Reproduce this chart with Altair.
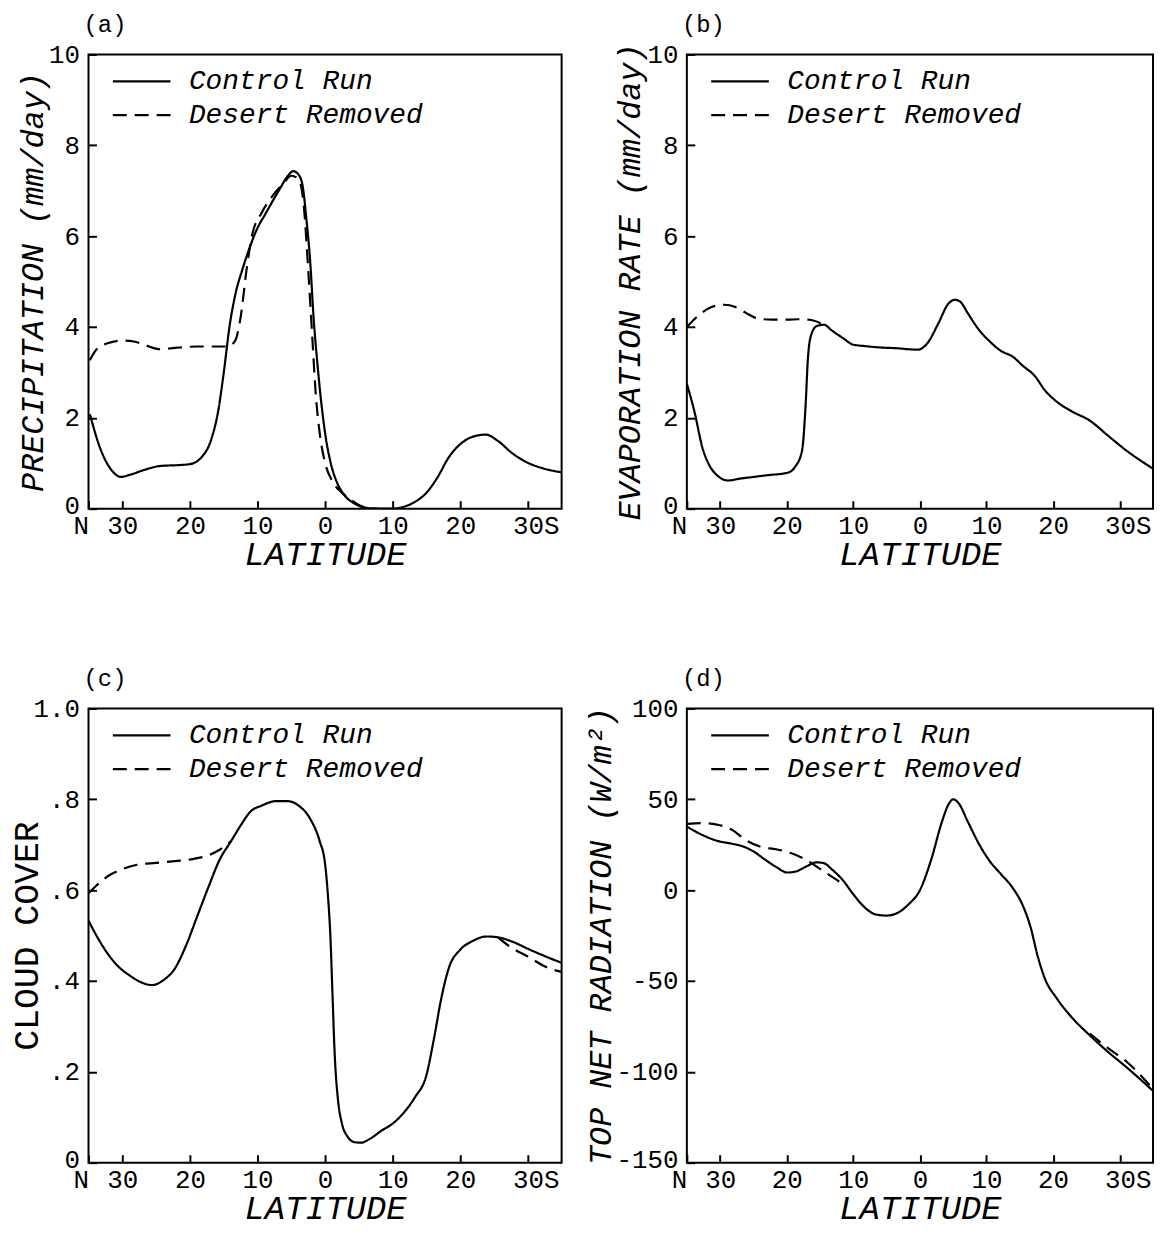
import altair as alt
import pandas as pd

FONT = "Liberation Mono"
SERIES = ["Control Run", "Desert Removed"]
DASHES = [[1, 0], [14, 8]]
LAT_TICKS = [35, 30, 20, 10, 0, -10, -20, -30]

# ---------------- (a) precipitation (mm/day) ----------------
A_CTRL_LAT = [34.8, 33.3, 31.6, 30.2, 28.8, 26.6, 24.4, 21.6, 20.0, 18.3, 16.9, 15.8, 15.0, 14.1,
              13.3, 12.2, 11.1, 10.0, 8.9, 7.8, 6.7, 5.5, 4.7, 3.9, 3.3, 2.8, 2.2, 1.7, 1.1, 0.55,
              0.0, -0.83, -1.7, -2.8, -4.4, -6.1, -7.8, -10.0, -11.6, -13.3, -15.0, -16.6, -18.3,
              -20.0, -22.2, -23.8, -25.5, -27.7, -30.0, -32.2, -35.0]
A_CTRL_VAL = [2.08, 1.34, 0.85, 0.70, 0.75, 0.86, 0.94, 0.96, 0.98, 1.13, 1.5, 2.16, 2.98, 4.05,
              4.7, 5.28, 5.77, 6.18, 6.47, 6.76, 7.04, 7.33, 7.43, 7.35, 7.09, 6.43, 5.44, 4.21, 3.14, 2.32,
              1.67, 1.01, 0.6, 0.31, 0.11, 0.02, 0.0, 0.0, 0.04, 0.15, 0.35, 0.68, 1.13,
              1.42, 1.6, 1.63, 1.5, 1.22, 1.01, 0.89, 0.8]
A_DES_LAT = [34.8, 33.8, 32.2, 30.0, 28.3, 26.6, 24.4, 22.2, 18.9, 16.6, 14.4, 13.3, 12.5, 11.6,
             10.8, 9.4, 7.8, 6.1, 5.0, 4.2, 3.6, 3.1, 2.5, 1.9, 1.4, 0.8, 0.0, -1.1, -2.5, -3.9,
             -5.0, -6.1, -7.8]
A_DES_VAL = [3.27, 3.51, 3.64, 3.70, 3.68, 3.6, 3.51, 3.54, 3.57, 3.57, 3.57, 3.70, 4.21, 5.28,
             6.02, 6.51, 6.88, 7.17, 7.33, 7.29, 7.13, 6.59, 5.28, 3.8, 2.57, 1.67, 1.01, 0.6, 0.35, 0.19,
             0.08, 0.02, 0.0]

# ---------------- (b) evaporation rate (mm/day) ----------------
B_CTRL_LAT = [35.0, 33.8, 32.7, 31.6, 30.5, 28.8, 27.1, 24.9, 22.7, 19.9, 18.8, 17.7, 17.2, 16.8,
              16.3, 15.5, 14.4, 13.3, 11.6, 10.0, 8.3, 6.1, 3.3, 1.7, 0.3, -1.1, -2.8, -4.2, -5.3,
              -6.1, -7.2, -8.9, -10.5, -12.2, -13.9, -15.5, -17.2, -18.8, -20.5, -22.7, -25.5,
              -28.3, -31.0, -35.0]
B_CTRL_VAL = [2.75, 2.1, 1.36, 0.95, 0.74, 0.62, 0.66, 0.70, 0.74, 0.79, 0.91, 1.28, 2.19, 3.35,
              3.84, 4.02, 4.05, 3.93, 3.76, 3.61, 3.58, 3.55, 3.53, 3.51, 3.5, 3.64, 4.09, 4.5, 4.6,
              4.55, 4.3, 3.93, 3.68, 3.47, 3.35, 3.14, 2.93, 2.6, 2.36, 2.15, 1.94,
              1.6, 1.28, 0.88]
B_DES_LAT = [35.0, 33.2, 31.6, 29.4, 27.7, 26.0, 24.4, 22.2, 19.9, 18.3, 16.6, 15.0, 14.4]
B_DES_VAL = [4.0, 4.26, 4.42, 4.49, 4.44, 4.3, 4.19, 4.16, 4.16, 4.17, 4.16, 4.09, 4.05]

# ---------------- (c) cloud cover ----------------
C_CTRL_LAT = [35.0, 33.9, 32.2, 30.6, 28.9, 27.2, 25.6, 23.9, 22.2, 20.6, 18.9, 17.2, 15.6, 13.9,
              12.2, 11.1, 9.4, 7.2, 5.6, 3.9, 2.2, 0.8, 0.0, -0.4, -0.8, -1.1, -1.4, -1.9, -2.5,
              -3.3, -4.4, -5.3, -6.7, -8.3, -10.0, -11.7, -13.3, -15.0, -16.1, -17.2, -18.3,
              -20.0, -21.7, -23.9, -25.6, -27.8, -30.0, -32.8, -35.0]
C_CTRL_VAL = [0.533, 0.502, 0.461, 0.432, 0.412, 0.397, 0.391, 0.402, 0.428, 0.477, 0.543, 0.609,
              0.667, 0.708, 0.749, 0.772, 0.786, 0.796, 0.796, 0.786, 0.757, 0.708, 0.658, 0.593,
              0.494, 0.370, 0.247, 0.14, 0.086, 0.058, 0.045, 0.044, 0.053, 0.070, 0.086, 0.111,
              0.144, 0.193, 0.272, 0.362, 0.428, 0.469, 0.487, 0.498, 0.496, 0.486, 0.471, 0.453,
              0.44]
C_DES_LAT = [35.0, 33.9, 32.2, 30.0, 27.8, 25.0, 22.2, 19.4, 17.2, 15.6, 14.2, 13.9]
C_DES_VAL = [0.593, 0.609, 0.630, 0.646, 0.656, 0.660, 0.664, 0.669, 0.677, 0.689, 0.704, 0.708]
C_DES2_LAT = [-25.6, -27.2, -30.0, -32.8, -35.0]
C_DES2_VAL = [0.496, 0.477, 0.454, 0.43, 0.42]

# ---------------- (d) top net radiation (W/m2) ----------------
D_CTRL_LAT = [35.0, 32.7, 30.5, 28.3, 26.6, 24.9, 23.3, 21.6, 19.9, 18.6, 17.2, 15.5, 14.4, 13.3,
              11.6, 10.0, 8.3, 6.6, 5.0, 3.3, 1.7, 0.0, -1.7, -3.3, -4.4, -5.0, -5.8, -7.2, -8.9,
              -10.5, -12.2, -13.9, -15.5, -16.6, -17.7, -18.8, -20.5, -22.7, -25.5, -28.3, -31.0,
              -35.0]
D_CTRL_VAL = [35.0, 30.4, 27.2, 25.6, 24.1, 21.1, 16.9, 12.8, 9.7, 10.3, 12.8, 15.3, 14.8, 11.7,
              5.6, -2.3, -9.5, -13.4, -14.0, -12.4, -7.8, 0.0, 16.9, 37.6, 47.9, 50.0, 47.9, 37.6,
              25.2, 15.9, 8.7, 1.4, -8.9, -20.2, -36.6, -49.0, -59.3, -69.6, -79.9, -89.2, -97.4,
              -110.5]
D_DES_LAT = [35.0, 32.7, 30.5, 28.3, 26.0, 23.8, 21.6, 19.4, 17.2, 15.0, 13.3, 12.2, 11.1]
D_DES_VAL = [36.5, 36.9, 36.1, 33.4, 27.2, 23.7, 22.5, 20.4, 16.9, 11.7, 7.6, 4.9, 2.5]
D_DES2_LAT = [-25.5, -28.3, -31.0, -35.0]
D_DES2_VAL = [-78.9, -87.1, -94.3, -109.5]


def frame(ctrl_lat, ctrl_val, des_parts):
    rows = []
    for la, v in zip(ctrl_lat, ctrl_val):
        rows.append({"lat": la, "val": v, "run": SERIES[0], "seg": "c"})
    for i, (lats, vals) in enumerate(des_parts):
        for la, v in zip(lats, vals):
            rows.append({"lat": la, "val": v, "run": SERIES[1], "seg": f"d{i}"})
    return pd.DataFrame(rows)


def panel(tag, ytitle, df, ydomain, yticks, width, ylabel_expr="'' + datum.value",
          ytitle_style="italic", ytitle_size=32, ytitle_pad=-1):
    yaxis = alt.Axis(
        values=yticks, title=ytitle, labelExpr=ylabel_expr,
        labelOffset={"condition": {"test": f"datum.value == {yticks[0]}", "value": -3}, "value": 0},
        titleFont=FONT, titleFontSize=ytitle_size, titleFontStyle=ytitle_style,
        titleFontWeight="normal", titleColor="black", titlePadding=ytitle_pad,
        labelFont=FONT, labelFontSize=26, labelColor="black", labelPadding=17,
        labelOverlap=False, labelFlush=False,
        tickColor="black", tickWidth=2, tickSize={"expr": "-8"}, domain=False, grid=False,
    )
    xaxis = alt.Axis(
        values=LAT_TICKS,
        labelExpr="datum.value == 35 ? 'N' : (datum.value == -30 ? '30S' : '' + abs(datum.value))",
        labelAlign={"condition": {"test": "datum.value == 35", "value": "right"}, "value": "center"},
        labelOffset={"condition": {"test": "datum.value == -30", "value": 8}, "value": 0},
        title="LATITUDE", titleFont=FONT, titleFontSize=34, titleFontStyle="italic",
        titleFontWeight="normal", titleColor="black", titlePadding=-1,
        labelFont=FONT, labelFontSize=26, labelColor="black", labelPadding=12,
        labelOverlap=False, labelFlush=False,
        tickColor="black", tickWidth=2, tickSize={"expr": "-8"}, domain=False, grid=False,
    )
    return alt.Chart(df).mark_line(
        interpolate="monotone", color="black", strokeWidth=2.2, clip=True
    ).encode(
        x=alt.X("lat:Q", scale=alt.Scale(domain=[35, -35], nice=False, zero=False), axis=xaxis),
        y=alt.Y("val:Q", scale=alt.Scale(domain=ydomain, nice=False, zero=False), axis=yaxis),
        strokeDash=alt.StrokeDash(
            "run:N",
            scale=alt.Scale(domain=SERIES, range=DASHES),
            legend=alt.Legend(
                title=None, orient="none", legendX=23, legendY=13, padding=0,
                symbolType="stroke", symbolSize=3364, symbolStrokeWidth=2.2,
                symbolStrokeColor="black", labelFont=FONT, labelFontSize=28,
                labelFontStyle="italic", labelColor="black", labelOffset=17,
                clipHeight=28, rowPadding=6, labelLimit=600,
            ),
        ),
        detail="seg:N",
    ).properties(
        width=width, height=457,
        title=alt.TitleParams(tag, anchor="start", frame="group", font=FONT, fontSize=24,
                              fontWeight="normal", color="black", offset=5, dx=-5),
    )


pa = panel("(a)", "PRECIPITATION (mm/day)",
           frame(A_CTRL_LAT, A_CTRL_VAL, [(A_DES_LAT, A_DES_VAL)]),
           [0, 10], [0, 2, 4, 6, 8, 10], 476, ytitle_pad=-1)
pb = panel("(b)", "EVAPORATION RATE (mm/day)",
           frame(B_CTRL_LAT, B_CTRL_VAL, [(B_DES_LAT, B_DES_VAL)]),
           [0, 10], [0, 2, 4, 6, 8, 10], 469, ytitle_pad=0)
pc = panel("(c)", "CLOUD COVER",
           frame(C_CTRL_LAT, C_CTRL_VAL, [(C_DES_LAT, C_DES_VAL), (C_DES2_LAT, C_DES2_VAL)]),
           [0, 1], [0, 0.2, 0.4, 0.6, 0.8, 1.0], 476,
           ylabel_expr="datum.value == 0 ? '0' : (datum.value >= 1 ? '1.0' : replace(format(datum.value, '.1f'), '0.', '.'))",
           ytitle_style="normal", ytitle_size=35, ytitle_pad=-11)
pd_ = panel("(d)", "TOP NET RADIATION (W/m²)",
            frame(D_CTRL_LAT, D_CTRL_VAL, [(D_DES_LAT, D_DES_VAL), (D_DES2_LAT, D_DES2_VAL)]),
            [-150, 100], [-150, -100, -50, 0, 50, 100], 469, ytitle_pad=-2)

chart = alt.concat(
    pa, pb, pc, pd_, columns=2, spacing={"row": 201, "column": 126}, bounds="flush", align="each"
).resolve_scale(
    strokeDash="independent", x="independent", y="independent"
).resolve_legend(
    strokeDash="independent"
).configure_view(
    stroke="black", strokeWidth=2
).properties(
    padding={"left": 0, "top": 0, "right": 0, "bottom": 0}, background="white"
)

chart.save("out.html", embed_options={"renderer": "svg", "actions": False})
